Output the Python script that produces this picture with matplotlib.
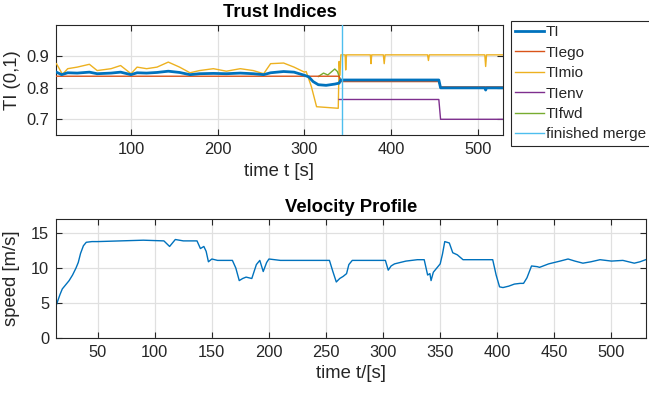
import matplotlib
matplotlib.use("Agg")
import matplotlib.pyplot as plt

plt.rcParams['font.family'] = ['Liberation Sans', 'DejaVu Sans']

# ---------------- data ----------------
# Trust indices
t_ti = [14, 20, 27, 38, 52, 61, 77, 88, 100, 107, 118, 130, 143, 156, 168, 179, 195, 210,
        226, 241, 253, 261, 276, 288, 300, 305, 310, 316, 325, 335, 340, 342, 455, 457,
        508, 509, 510, 529]
ti = [0.850, 0.842, 0.848, 0.847, 0.850, 0.845, 0.847, 0.850, 0.842, 0.848, 0.847, 0.849,
      0.853, 0.849, 0.842, 0.845, 0.846, 0.845, 0.847, 0.845, 0.842, 0.848, 0.852, 0.850,
      0.840, 0.835, 0.820, 0.810, 0.808, 0.812, 0.815, 0.825, 0.825, 0.800,
      0.800, 0.793, 0.800, 0.800]

t_ego = [14, 340, 342, 455, 457, 529]
ti_ego = [0.837, 0.837, 0.820, 0.820, 0.803, 0.803]

t_mio = [14, 21, 27, 38, 52, 61, 77, 88, 100, 107, 118, 130, 143, 156, 168, 179, 195, 210,
         226, 241, 253, 261, 276, 288, 300, 302, 308, 314, 339, 340, 341, 342,
         347, 347.6, 348.5, 376, 376.8, 377.6, 391, 392, 393, 442, 443, 444,
         508, 509, 510, 529]
ti_mio = [0.877, 0.843, 0.861, 0.866, 0.875, 0.855, 0.861, 0.871, 0.845, 0.866, 0.861, 0.866,
          0.882, 0.866, 0.848, 0.855, 0.861, 0.853, 0.861, 0.855, 0.845, 0.877, 0.879, 0.866,
          0.850, 0.852, 0.804, 0.740, 0.735, 0.884, 0.840, 0.905,
          0.905, 0.857, 0.905, 0.905, 0.877, 0.905, 0.905, 0.877, 0.905, 0.905, 0.887, 0.905,
          0.905, 0.868, 0.905, 0.905]

t_env = [340, 455, 457, 529]
ti_env = [0.763, 0.763, 0.700, 0.700]

t_fwd = [316, 322, 327, 335, 338, 342, 455, 457, 529]
ti_fwd = [0.836, 0.847, 0.841, 0.860, 0.852, 0.822, 0.822, 0.801, 0.801]

t_merge = 343

# Velocity profile
t_v = [14, 17, 19, 22, 25, 28, 31, 33, 35, 37.5, 40, 45, 50, 70, 90, 108, 113, 118, 125,
       137, 140, 143, 145, 147, 150, 155, 168, 171, 174, 177, 180, 185, 189, 192, 195, 198,
       200, 210, 240, 253, 256, 259, 262, 265, 268, 270, 273, 290, 302, 304.5, 307, 310,
       320, 330, 336, 339, 341, 342, 344, 347, 350, 352, 354, 358, 361, 365, 370, 396,
       399, 402, 405, 410, 415, 420, 423, 426, 430, 435, 437, 445, 455, 462, 468, 475,
       482, 490, 500, 510, 520, 525, 530]
v = [4.8, 6.2, 7.0, 7.6, 8.2, 9.0, 10.0, 10.8, 12.1, 13.2, 13.7, 13.8, 13.8, 13.9, 14.0,
     13.9, 13.1, 14.1, 13.9, 13.9, 12.8, 13.1, 12.4, 10.9, 11.3, 11.1, 11.1, 10.0, 8.2,
     8.5, 8.7, 8.5, 10.5, 11.1, 9.5, 10.8, 11.3, 11.1, 11.1, 11.1, 9.5, 8.0, 8.5, 8.8,
     9.2, 10.5, 11.1, 11.1, 11.1, 9.7, 10.3, 10.6, 11.0, 11.2, 11.2, 9.0, 9.2, 8.2, 9.4,
     10.0, 10.6, 12.0, 13.8, 13.6, 12.2, 11.9, 11.2, 11.2, 9.0, 7.3, 7.2, 7.4, 7.7, 7.8,
     7.8, 8.6, 10.3, 10.2, 10.1, 10.6, 11.0, 11.3, 11.0, 10.7, 10.9, 11.2, 11.0, 11.1,
     10.7, 10.9, 11.2]

# ---------------- style ----------------
C_BLUE = (0.0, 0.447, 0.741)
C_RED = (0.85, 0.325, 0.098)
C_YEL = (0.929, 0.694, 0.125)
C_PUR = (0.494, 0.184, 0.556)
C_GRN = (0.466, 0.674, 0.188)
C_LBL = (0.301, 0.745, 0.933)
FS_TICK = 11.8
FS_LAB = 13.3
FS_LEG = 11
DARK = (0.15, 0.15, 0.15)


def style(ax):
    ax.grid(True, color=(0.88, 0.88, 0.88), linewidth=0.9)
    ax.set_axisbelow(True)
    ax.tick_params(direction='in', length=4.5, width=0.8, top=True, right=True,
                   labelsize=FS_TICK, colors=DARK, pad=5)
    for s in ax.spines.values():
        s.set_color(DARK)
        s.set_linewidth(0.8)


fig = plt.figure(figsize=(6.49, 3.97), dpi=100)

ax1 = fig.add_axes([56 / 649, 1 - 135 / 397, 447 / 649, 110 / 397])
ax1.plot(t_ti, ti, color=C_BLUE, lw=2.0, label='TI', zorder=5)
ax1.plot(t_ego, ti_ego, color=C_RED, lw=1.0, label='TIego', zorder=4)
ax1.plot(t_mio, ti_mio, color=C_YEL, lw=1.0, label='TImio', zorder=3)
ax1.plot(t_env, ti_env, color=C_PUR, lw=1.0, label='TIenv', zorder=3)
ax1.plot(t_fwd, ti_fwd, color=C_GRN, lw=1.0, label='TIfwd', zorder=3)
ax1.axvline(t_merge, color=C_LBL, lw=1.0, label='finished merge', zorder=6)
ax1.set_xlim(13.5, 529)
ax1.set_ylim(0.65, 1.0)
ax1.set_xticks([100, 200, 300, 400, 500])
ax1.set_yticks([0.7, 0.8, 0.9])
style(ax1)
ax1.set_title('Trust Indices', fontsize=FS_LAB, fontweight='bold', pad=6)
ax1.set_xlabel('time t [s]', fontsize=FS_LAB, color=DARK, labelpad=4)
ax1.set_ylabel('TI (0,1)', fontsize=FS_LAB, color=DARK, labelpad=4)

leg = ax1.legend(loc='upper left',
                 bbox_to_anchor=(510.7 / 649, 0, 150 / 649, 1 - 20.7 / 397),
                 bbox_transform=fig.transFigure, mode='expand', fontsize=FS_LEG,
                 frameon=True, fancybox=False, framealpha=1, edgecolor=DARK,
                 borderaxespad=0, handlelength=1.85, handletextpad=0.15,
                 labelspacing=0.42, borderpad=0.3)
leg.get_frame().set_linewidth(0.8)
for txt in leg.get_texts():
    txt.set_color(DARK)

ax2 = fig.add_axes([56 / 649, 1 - 337.7 / 397, 589.7 / 649, 118.4 / 397])
ax2.plot(t_v, v, color=C_BLUE, lw=1.0)
ax2.set_xlim(13.5, 530)
ax2.set_ylim(0, 17)
ax2.set_xticks([50, 100, 150, 200, 250, 300, 350, 400, 450, 500])
ax2.set_yticks([0, 5, 10, 15])
style(ax2)
ax2.set_title('Velocity Profile', fontsize=FS_LAB, fontweight='bold', pad=5)
ax2.set_xlabel('time t/[s]', fontsize=FS_LAB, color=DARK, labelpad=4)
ax2.set_ylabel('speed [m/s]', fontsize=FS_LAB, color=DARK, labelpad=8)

fig.savefig('out.png', dpi=100)
